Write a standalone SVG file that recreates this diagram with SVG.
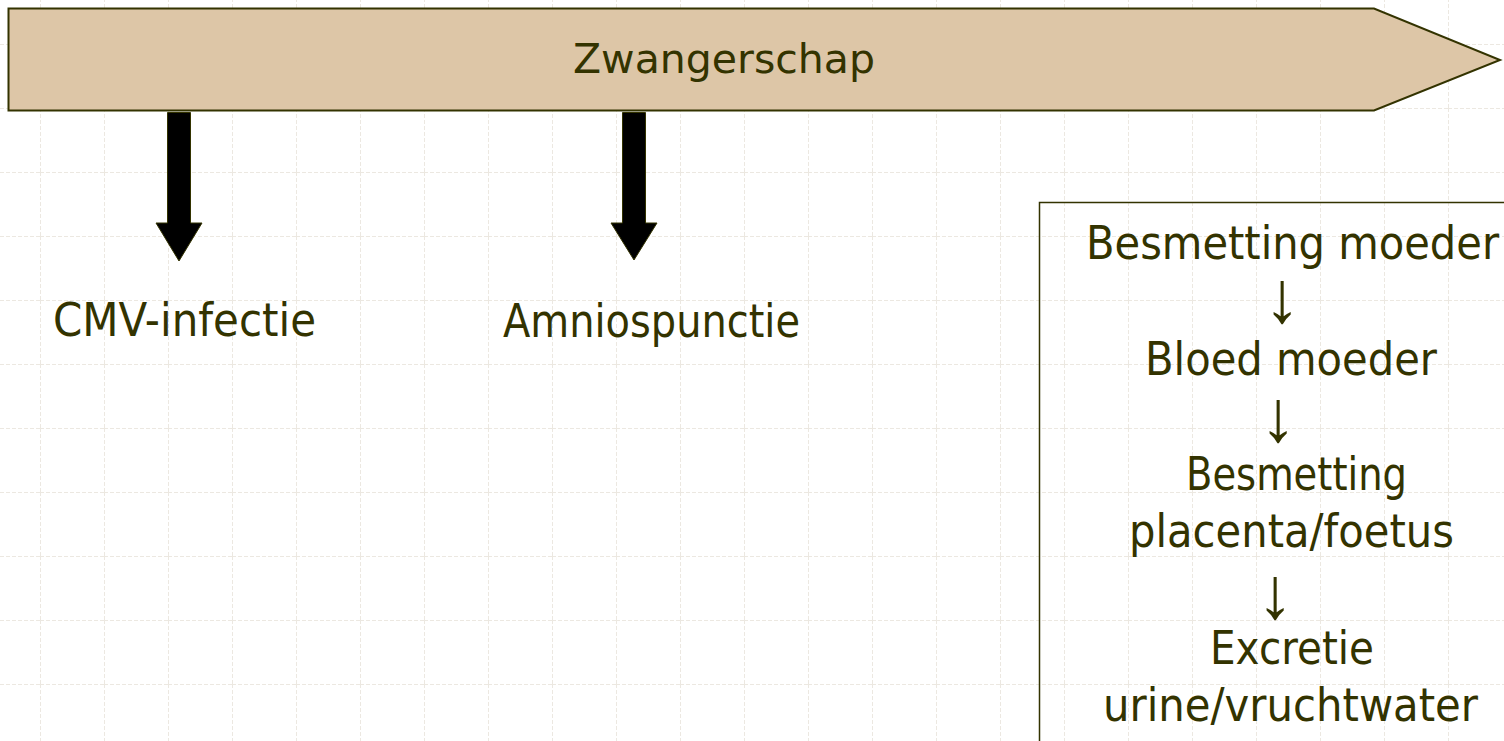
<svg xmlns="http://www.w3.org/2000/svg" width="1504" height="741" viewBox="0 0 1504 741">
<defs>
<pattern id="grid" x="40" y="44" width="64" height="64" patternUnits="userSpaceOnUse">
<path d="M0.5 0 V64 M0 0.5 H64" fill="none" stroke="#ece8e1" stroke-width="1" stroke-dasharray="4 2"/>
</pattern>
</defs>
<style>
.t{font-family:"DejaVu Sans","Liberation Sans",sans-serif;fill:#333300}
.a{font-family:"Liberation Sans","DejaVu Sans",sans-serif;fill:#333300;font-size:73px;text-anchor:middle}
.arr{fill:#000000;stroke:#333300;stroke-width:1}
</style>
<rect width="1504" height="741" fill="#ffffff"/>
<rect width="1504" height="741" fill="url(#grid)"/>
<g id="timeline">
<polygon points="8.5,8.5 1374,8.5 1500,60 1374,110.5 8.5,110.5" fill="#ddc6a7" stroke="#333300" stroke-width="2"/>
<text class="t" x="573" y="73" font-size="40" textLength="302" lengthAdjust="spacingAndGlyphs">Zwangerschap</text>
</g>
<g id="connectors">
<polygon class="arr" points="167.5,112.5 190.5,112.5 190.5,223 202,223 179,261 156,223 167.5,223"/>
<polygon class="arr" points="622.5,112.5 645.5,112.5 645.5,223 657,223 634,260 611,223 622.5,223"/>
</g>
<g id="cmv">
<text class="t" x="53" y="336" font-size="46" textLength="263" lengthAdjust="spacingAndGlyphs">CMV-infectie</text>
</g>
<g id="amnio">
<text class="t" x="503" y="337" font-size="46" textLength="297" lengthAdjust="spacingAndGlyphs">Amniospunctie</text>
</g>
<g id="pathway">
<rect x="1039.5" y="202.5" width="480" height="560" fill="none" stroke="#333300" stroke-width="1.5"/>
<text class="t" x="1086" y="259" font-size="46" textLength="413" lengthAdjust="spacingAndGlyphs">Besmetting moeder</text>
<text class="a" x="1282" y="322">↓</text>
<text class="t" x="1145" y="375" font-size="46" textLength="292" lengthAdjust="spacingAndGlyphs">Bloed moeder</text>
<text class="a" x="1278" y="441">↓</text>
<text class="t" x="1186" y="490" font-size="46" textLength="221" lengthAdjust="spacingAndGlyphs">Besmetting</text>
<text class="t" x="1129" y="547" font-size="46" textLength="325" lengthAdjust="spacingAndGlyphs">placenta/foetus</text>
<text class="a" x="1275" y="618">↓</text>
<text class="t" x="1210" y="664" font-size="46" textLength="164" lengthAdjust="spacingAndGlyphs">Excretie</text>
<text class="t" x="1103" y="721" font-size="46" textLength="375" lengthAdjust="spacingAndGlyphs">urine/vruchtwater</text>
</g>
</svg>
